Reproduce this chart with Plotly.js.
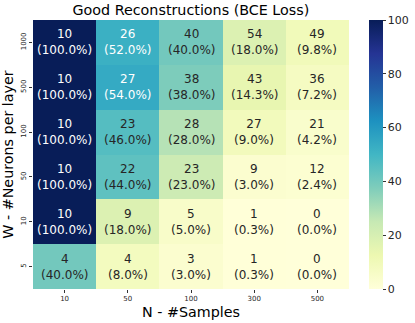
<!DOCTYPE html>
<html>
<head>
<meta charset="utf-8">
<script src="https://cdn.plot.ly/plotly-3.0.1.min.js"></script>
<style>
  html, body { margin: 0; padding: 0; background: #fff; }
  #chart { width: 415px; height: 323px; }
</style>
</head>
<body>
<div id="chart"></div>
<script>
// columns: N - #Samples, rows: W - #Neurons per layer (top to bottom)
const samples = ['10', '50', '100', '300', '500'];
const neurons = ['1000', '500', '100', '50', '10', '5'];

const counts = [
    [10, 26, 40, 54, 49],
    [10, 27, 38, 43, 36],
    [10, 23, 28, 27, 21],
    [10, 22, 23, 9, 12],
    [10, 9, 5, 1, 0],
    [4, 4, 3, 1, 0]
];

const percents = [
    [100.0, 52.0, 40.0, 18.0, 9.8],
    [100.0, 54.0, 38.0, 14.3, 7.2],
    [100.0, 46.0, 28.0, 9.0, 4.2],
    [100.0, 44.0, 23.0, 3.0, 2.4],
    [100.0, 18.0, 5.0, 0.3, 0.0],
    [40.0, 8.0, 3.0, 0.3, 0.0]
];

// matplotlib YlGnBu
const ylgnbu = [
    [0.0, '#ffffd9'], [0.125, '#edf8b1'], [0.25, '#c7e9b4'],
    [0.375, '#7fcdbb'], [0.5, '#41b6c4'], [0.625, '#1d91c0'],
    [0.75, '#225ea8'], [0.875, '#253494'], [1.0, '#081d58']
];

const font = '"DejaVu Sans", sans-serif';

// cells sit on integer positions; tick labels come from the arrays above
const xIdx = samples.map((s, j) => j);
const yIdx = neurons.map((s, i) => i);

const annotations = [];
neurons.forEach((w, i) => {
    samples.forEach((n, j) => {
        const p = percents[i][j];
        annotations.push({
            x: j, y: i, xref: 'x', yref: 'y',
            text: counts[i][j] + '<br>(' + p.toFixed(1) + '%)',
            showarrow: false,
            font: { family: font, size: 12, color: p > 50 ? '#ffffff' : '#262626' }
        });
    });
});

const trace = {
    type: 'heatmap',
    x: xIdx,
    y: yIdx,
    z: percents,
    zmin: 0,
    zmax: 100,
    colorscale: ylgnbu,
    hoverinfo: 'skip',
    colorbar: {
        x: 1.063, xanchor: 'left', xpad: 0,
        y: 0, yanchor: 'bottom', len: 1, ypad: 0,
        thickness: 14,
        outlinewidth: 0,
        ticks: 'outside', ticklen: 3, tickcolor: '#333',
        tickvals: [0, 20, 40, 60, 80, 100],
        tickfont: { family: font, size: 11, color: '#262626' }
    }
};

const layout = {
    width: 415,
    height: 323,
    margin: { l: 33, r: 66, t: 20, b: 34, autoexpand: false },
    paper_bgcolor: '#fff',
    plot_bgcolor: '#fff',
    title: {
        text: 'Good Reconstructions (BCE Loss)',
        font: { family: font, size: 14.3, color: '#000' },
        x: 0.46, xanchor: 'center', y: 0.985, yanchor: 'top'
    },
    xaxis: {
        range: [-0.5, samples.length - 0.5],
        tickvals: xIdx, ticktext: samples,
        title: { text: 'N - #Samples', font: { family: font, size: 14.3, color: '#000' }, standoff: 4 },
        ticks: 'outside', ticklen: 3, tickcolor: '#333',
        tickfont: { family: font, size: 7, color: '#262626' },
        showgrid: false, zeroline: false, showline: false
    },
    yaxis: {
        range: [neurons.length - 0.5, -0.5],
        tickvals: yIdx, ticktext: neurons,
        title: { text: 'W - #Neurons per layer', font: { family: font, size: 14.3, color: '#000' }, standoff: 3 },
        ticks: 'outside', ticklen: 3, tickcolor: '#333',
        tickangle: -90,
        tickfont: { family: font, size: 7, color: '#262626' },
        showgrid: false, zeroline: false, showline: false
    },
    annotations: annotations
};

Plotly.newPlot('chart', [trace], layout, { displayModeBar: false, staticPlot: true });
</script>
</body>
</html>
